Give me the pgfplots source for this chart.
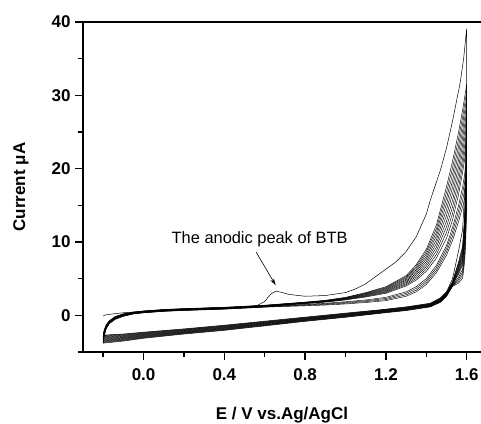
\documentclass[border=0pt]{standalone}
\usepackage{pgfplots}
\usepackage{pgfplotstable}
\pgfplotsset{compat=1.18}
\usepackage{fontspec}
\setmainfont{Liberation Sans}
\usetikzlibrary{arrows.meta}

% forward scans, cycles 2..15 (f = fan, g = later cycles)
\pgfplotstableread{
x      f0     f1     f2     f3     f4     f5     f6     f7     f8     f9     g0     g1     g2     g3
-0.2   -2.75  -2.83  -2.91  -2.99  -3.07  -3.15  -3.23  -3.31  -3.39  -3.47  -3.55  -3.63  -3.71  -3.79
-0.195 -2.00  -2.06  -2.12  -2.18  -2.24  -2.30  -2.36  -2.42  -2.48  -2.54  -2.60  -2.66  -2.72  -2.78
-0.185 -1.30  -1.34  -1.38  -1.42  -1.46  -1.50  -1.54  -1.58  -1.62  -1.66  -1.70  -1.74  -1.78  -1.82
-0.17  -0.75  -0.78  -0.81  -0.84  -0.87  -0.90  -0.93  -0.96  -0.99  -1.02  -1.05  -1.08  -1.11  -1.14
-0.14  -0.15  -0.18  -0.21  -0.24  -0.27  -0.30  -0.33  -0.36  -0.39  -0.42  -0.45  -0.48  -0.51  -0.54
-0.1    0.20   0.18   0.15   0.13   0.10   0.08   0.05   0.03   0.00  -0.03  -0.05  -0.08  -0.10  -0.13
-0.05   0.45   0.43   0.41   0.39   0.37   0.35   0.33   0.31   0.29   0.27   0.25   0.23   0.21   0.19
0.0     0.60   0.58   0.56   0.54   0.52   0.50   0.48   0.46   0.44   0.42   0.40   0.38   0.36   0.34
0.1     0.80   0.78   0.76   0.74   0.72   0.70   0.68   0.66   0.64   0.62   0.60   0.58   0.56   0.54
0.2     0.92   0.90   0.88   0.86   0.84   0.82   0.80   0.78   0.76   0.74   0.72   0.70   0.68   0.66
0.4     1.10   1.08   1.06   1.04   1.02   1.00   0.98   0.96   0.94   0.92   0.90   0.88   0.86   0.84
0.6     1.38   1.36   1.34   1.32   1.30   1.28   1.26   1.24   1.22   1.20   1.18   1.16   1.14   1.12
0.8     1.80   1.78   1.76   1.73   1.71   1.69   1.67   1.64   1.62   1.60   1.50   1.43   1.37   1.30
0.9     2.05   2.02   1.99   1.97   1.94   1.91   1.88   1.86   1.83   1.80   1.65   1.57   1.48   1.40
1.0     2.45   2.41   2.37   2.33   2.29   2.26   2.22   2.18   2.14   2.10   1.85   1.75   1.65   1.55
1.1     3.10   3.03   2.97   2.90   2.83   2.77   2.70   2.63   2.57   2.50   2.10   1.98   1.87   1.75
1.2     3.90   3.80   3.70   3.60   3.50   3.40   3.30   3.20   3.10   3.00   2.45   2.30   2.15   2.00
1.3     5.40   5.24   5.09   4.93   4.78   4.62   4.47   4.31   4.16   4.00   3.20   3.00   2.80   2.60
1.35    6.90   6.67   6.43   6.20   5.97   5.73   5.50   5.27   5.03   4.80   3.90   3.67   3.43   3.20
1.4     9.00   8.67   8.33   8.00   7.67   7.33   7.00   6.67   6.33   6.00   5.00   4.73   4.47   4.20
1.45   12.30  11.80  11.30  10.80  10.30   9.80   9.30   8.80   8.30   7.80   6.80   6.47   6.13   5.80
1.5    17.50  16.72  15.94  15.17  14.39  13.61  12.83  12.06  11.28  10.50   9.50   9.07   8.63   8.20
1.53   21.00  20.11  19.22  18.33  17.44  16.56  15.67  14.78  13.89  13.00  12.00  11.40  10.80  10.20
1.56   25.00  24.06  23.11  22.17  21.22  20.28  19.33  18.39  17.44  16.50  15.00  14.27  13.53  12.80
1.58   28.00  27.06  26.11  25.17  24.22  23.28  22.33  21.39  20.44  19.50  17.50  16.60  15.70  14.80
1.6    31.50  30.56  29.61  28.67  27.72  26.78  25.83  24.89  23.94  23.00  21.00  19.67  18.33  17.00
}\fwd

% reverse scans, same cycles
\pgfplotstableread{
x      f0     f1     f2     f3     f4     f5     f6     f7     f8     f9     g0     g1     g2     g3
1.6    31.50  30.56  29.61  28.67  27.72  26.78  25.83  24.89  23.94  23.00  21.00  19.67  18.33  17.00
1.598  23.63  22.92  22.21  21.50  20.79  20.09  19.37  18.67  17.96  17.25  15.75  14.75  13.75  12.75
1.595  18.27  17.72  17.17  16.63  16.08  15.53  14.98  14.44  13.89  13.34  12.18  11.41  10.63   9.86
1.59   13.55  13.14  12.73  12.33  11.92  11.52  11.11  10.70  10.29   9.89   9.03   8.46   7.88   7.31
1.58    9.45   9.17   8.88   8.60   8.32   8.03   7.75   7.47   7.18   6.90   6.30   5.90   5.50   5.10
1.56    7.30   7.11   6.92   6.73   6.54   6.36   6.17   5.98   5.79   5.60   5.20   4.93   4.67   4.40
1.53    4.60   4.55   4.50   4.45   4.40   4.35   4.30   4.25   4.20   4.15   4.10   4.05   4.00   3.95
1.5     3.10   3.06   3.02   2.98   2.94   2.90   2.86   2.82   2.78   2.74   2.70   2.66   2.62   2.58
1.47    2.30   2.26   2.22   2.18   2.14   2.10   2.06   2.02   1.98   1.94   1.90   1.86   1.82   1.78
1.42    1.60   1.57   1.53   1.50   1.46   1.43   1.39   1.36   1.32   1.29   1.25   1.22   1.18   1.15
1.3     1.10   1.07   1.03   1.00   0.96   0.93   0.89   0.86   0.82   0.79   0.75   0.72   0.68   0.65
1.17    0.72   0.69   0.65   0.62   0.58   0.55   0.51   0.48   0.44   0.41   0.37   0.34   0.30   0.27
1.0     0.25   0.21   0.17   0.13   0.09   0.05   0.01  -0.03  -0.07  -0.11  -0.15  -0.19  -0.23  -0.27
0.8    -0.30  -0.34  -0.38  -0.42  -0.46  -0.50  -0.54  -0.58  -0.62  -0.66  -0.70  -0.74  -0.78  -0.82
0.6    -0.85  -0.90  -0.94  -0.99  -1.03  -1.08  -1.12  -1.17  -1.21  -1.26  -1.30  -1.35  -1.39  -1.44
0.4    -1.40  -1.45  -1.50  -1.55  -1.60  -1.65  -1.70  -1.75  -1.80  -1.85  -1.90  -1.95  -2.00  -2.05
0.2    -1.90  -1.95  -2.00  -2.05  -2.10  -2.15  -2.20  -2.25  -2.30  -2.35  -2.40  -2.45  -2.50  -2.55
0.0    -2.35  -2.41  -2.47  -2.53  -2.59  -2.65  -2.71  -2.77  -2.83  -2.89  -2.95  -3.01  -3.07  -3.13
-0.1   -2.60  -2.67  -2.74  -2.81  -2.88  -2.95  -3.02  -3.09  -3.16  -3.23  -3.30  -3.37  -3.44  -3.51
-0.2   -2.75  -2.83  -2.91  -2.99  -3.07  -3.15  -3.23  -3.31  -3.39  -3.47  -3.55  -3.63  -3.71  -3.79
}\rev

\begin{document}
\begin{tikzpicture}
\begin{axis}[
    name=cv,
    scale only axis,
    width=398pt, height=330pt,
    xmin=-0.3, xmax=1.671,
    ymin=-5, ymax=40,
    every non boxed y axis/.style={},
    axis x line=box, axis y line=left,
    axis line style={line width=1.6pt, -},
    xtick={0,0.4,0.8,1.2,1.6},
    minor xtick={-0.2,0.2,0.6,1.0,1.4},
    ytick={0,10,20,30,40},
    minor ytick={-5,5,15,25,35},
    xtick pos=left, ytick pos=left,
    tick align=outside,
    major tick length=8pt, minor tick length=5pt,
    tick style={line width=1.4pt, black},
    /pgf/number format/assume math mode=true,
    tick label style={font=\fontsize{17}{19}\selectfont\bfseries},
    x tick label style={yshift=-5pt, /pgf/number format/.cd, fixed, fixed zerofill, precision=1},
    y tick label style={xshift=-1pt, /pgf/number format/.cd, fixed, precision=0},
    xlabel={E / V vs.Ag/AgCl},
    ylabel={Current μA},
    label style={font=\fontsize{17}{19}\selectfont\bfseries},
    xlabel style={at={(axis description cs:0.5,-0.206)}, anchor=base},
    ylabel style={at={(axis description cs:-0.1457,0.5)}, anchor=base},
    clip=true,
]
% first cycle with the BTB oxidation peak
\addplot[black, line width=0.5pt] coordinates {
    (-0.2,-0.1) (-0.19,0.05) (-0.15,0.2) (-0.1,0.35) (0.0,0.55) (0.1,0.72)
    (0.2,0.85) (0.3,0.95) (0.4,1.05) (0.5,1.15) (0.56,1.3) (0.6,1.9)
    (0.63,2.9) (0.655,3.3) (0.68,3.15) (0.72,2.85) (0.8,2.6) (0.9,2.7)
    (1.0,3.1) (1.05,3.6) (1.1,4.3) (1.17,5.7) (1.25,7.3) (1.3,8.7)
    (1.35,10.7) (1.4,13.8) (1.42,15.7) (1.47,19.8) (1.5,22.8) (1.53,26.5)
    (1.567,31.6) (1.585,35) (1.6,39.1)
    (1.598,29.3) (1.595,22.7) (1.59,16.8) (1.58,11.7) (1.56,8.8) (1.53,5.0)
    (1.5,3.2) (1.47,2.4) (1.42,1.65) (1.3,1.15) (1.17,0.75) (1.0,0.3)
    (0.8,-0.25) (0.6,-0.8) (0.4,-1.35) (0.2,-1.85) (0.0,-2.3) (-0.1,-2.55)
    (-0.2,-2.7)
};
% later cycles
\pgfplotsinvokeforeach{f0,f1,f2,f3,f4,f5,f6,f7,f8,f9,g0,g1,g2,g3}{
    \addplot[black, line width=0.45pt] table[x=x, y=#1] {\fwd};
    \addplot[black, line width=0.45pt] table[x=x, y=#1] {\rev};
}
\node[font=\fontsize{16.4}{18}\selectfont, anchor=base] at (axis cs:0.575,9.85) {The anodic peak of BTB};
\draw[-{Stealth[length=7pt,width=4pt]}, line width=0.6pt]
    (axis cs:0.558,8.6) -- (axis cs:0.654,4.1);
\end{axis}
\pgfresetboundingbox
\path[use as bounding box] ([xshift=-83pt,yshift=-72pt]cv.south west)
    rectangle ([yshift=22pt]cv.north east);
\end{tikzpicture}
\end{document}
